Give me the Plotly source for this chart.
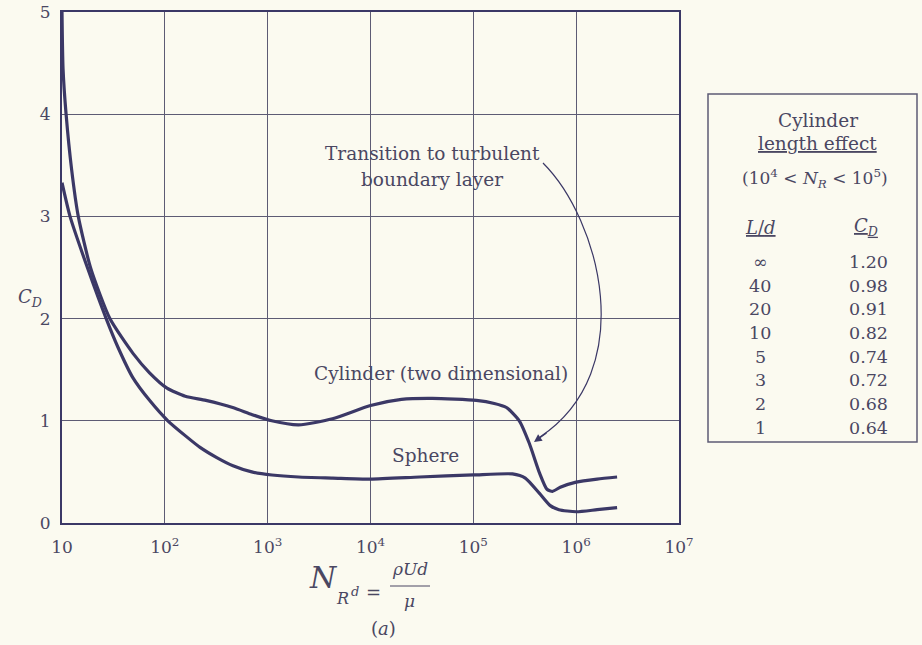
import plotly.graph_objects as go

# ---- data ----
cyl_re = [10.0, 10.23, 10.96, 12.4, 14.4, 19.05, 29.2, 49, 71, 105, 158, 251, 457, 708,
          1096, 2000, 4270, 1.0e4, 2.0e4, 4.0e4, 1.07e5, 1.6e5, 2.1e5, 2.8e5, 3.5e5,
          4.4e5, 5.2e5, 5.9e5, 7.0e5, 1.0e6, 1.6e6, 2.5e6]
cyl_cd = [5.0, 4.45, 4.0, 3.46, 3.0, 2.49, 2.0, 1.66, 1.47, 1.32, 1.24, 1.20, 1.13, 1.06,
          1.0, 0.96, 1.02, 1.15, 1.21, 1.22, 1.20, 1.17, 1.13, 1.0, 0.78,
          0.49, 0.33, 0.31, 0.35, 0.40, 0.43, 0.45]

sph_re = [10.0, 11.97, 17.8, 26.9, 35, 49, 71, 107, 160, 220, 320, 460, 700, 1100, 2000,
          4300, 1.0e4, 3.0e4, 1.0e5, 2.4e5, 3.2e5, 4.4e5, 5.6e5, 6.8e5, 1.0e6, 1.6e6, 2.5e6]
sph_cd = [3.33, 3.0, 2.49, 2.0, 1.72, 1.42, 1.20, 1.0, 0.85, 0.74, 0.64, 0.56, 0.50, 0.47, 0.45,
          0.44, 0.43, 0.45, 0.47, 0.48, 0.44, 0.29, 0.17, 0.13, 0.11, 0.13, 0.15]

x_tickvals = [10, 1e2, 1e3, 1e4, 1e5, 1e6, 1e7]
x_ticktext = ["10", "10<sup>2</sup>", "10<sup>3</sup>", "10<sup>4</sup>", "10<sup>5</sup>",
              "10<sup>6</sup>", "10<sup>7</sup>"]
y_tickvals = [0, 1, 2, 3, 4, 5]

ld_values = ["∞", "40", "20", "10", "5", "3", "2", "1"]
cd_values = ["1.20", "0.98", "0.91", "0.82", "0.74", "0.72", "0.68", "0.64"]

# ---- style ----
W, H = 922, 645
L, R, T, B = 62, 679, 12, 523
BG = "#fbfaf0"
LINE = "#3b3866"
GRID = "#5d5b74"
TXT = "#4a4762"
FONT = "DejaVu Serif"


def px(x):
    return (x - L) / (R - L)


def py(y):
    return (B - y) / (B - T)


fig = go.Figure()
fig.add_trace(go.Scatter(x=cyl_re, y=cyl_cd, mode="lines",
                         line=dict(color=LINE, width=3.2, shape="spline", smoothing=0.6),
                         hoverinfo="skip", showlegend=False, cliponaxis=True))
fig.add_trace(go.Scatter(x=sph_re, y=sph_cd, mode="lines",
                         line=dict(color=LINE, width=3.2, shape="spline", smoothing=0.6),
                         hoverinfo="skip", showlegend=False, cliponaxis=True))

ann = []


def text(x, y, s, size=18, **kw):
    d = dict(x=px(x), y=py(y), xref="paper", yref="paper", text=s, showarrow=False,
             font=dict(family=FONT, size=size, color=TXT), xanchor="center", yanchor="middle")
    d.update(kw)
    ann.append(d)


text(432, 153, "Transition to turbulent", size=18.5)
text(432, 179, "boundary layer", size=18.5)
text(441, 373, "Cylinder (two dimensional)", size=18.5)
text(425, 455, "Sphere", size=18.5)
text(30, 298, "<i>C<sub>D</sub></i>", size=18)

# x-axis title: N_Rd = rho U d / mu
text(323, 577, "<i>N</i>", size=30)
text(342, 598, "<i>R</i>", size=16)
text(355, 591, "<i>d</i>", size=13)
text(374, 592, "=", size=18)
text(410, 569, "<i>ρUd</i>", size=17)
text(409, 601, "<i>μ</i>", size=17)
text(383, 628, "(<i>a</i>)", size=18)

# table
text(818, 120, "Cylinder", size=18.5)
text(817, 143, "<u>length effect</u>", size=18.5)
text(815, 178, "(10<sup>4</sup> &lt; <i>N<sub>R</sub></i> &lt; 10<sup>5</sup>)", size=17)
text(760, 227, "<u><i>L</i>/<i>d</i></u>", size=18)
text(866, 227, "<u><i>C<sub>D</sub></i></u>", size=18)
for i, (a, b) in enumerate(zip(ld_values, cd_values)):
    yy = 262 + i * 23.7
    text(760, yy, a, size=17.5)
    text(868, yy, b, size=17.5)

# arrowhead at the end of the curved pointer
ann.append(dict(x=px(534), y=py(442), xref="paper", yref="paper", ax=14, ay=-10, text="",
                showarrow=True, arrowhead=2, arrowsize=1.3, arrowwidth=1.2, arrowcolor=LINE))

shapes = [
    dict(type="path", xref="paper", yref="paper",
         path=f"M {px(543)},{py(163)} C {px(600)},{py(220)} {px(640)},{py(370)} {px(540)},{py(437)}",
         line=dict(color=LINE, width=1.2)),
    dict(type="rect", xref="paper", yref="paper", x0=px(708), x1=px(917), y0=py(94), y1=py(442),
         line=dict(color=GRID, width=1.5)),
    dict(type="line", xref="paper", yref="paper", x0=px(390), x1=px(430), y0=py(586), y1=py(586),
         line=dict(color=TXT, width=1)),
]

fig.update_layout(
    width=W, height=H,
    margin=dict(l=L, r=W - R, t=T, b=H - B, autoexpand=False),
    paper_bgcolor=BG, plot_bgcolor=BG,
    annotations=ann, shapes=shapes,
    xaxis=dict(type="log", range=[1, 7], tickvals=x_tickvals, ticktext=x_ticktext,
               automargin=False,
               showgrid=True, gridcolor=GRID, gridwidth=1, zeroline=False,
               showline=True, linecolor=LINE, linewidth=2, mirror=True,
               ticks="outside", ticklen=8, tickcolor="rgba(0,0,0,0)",
               tickfont=dict(family=FONT, size=17, color=TXT)),
    yaxis=dict(range=[0, 5], tickvals=y_tickvals, automargin=False,
               showgrid=True, gridcolor=GRID, gridwidth=1, zeroline=False,
               showline=True, linecolor=LINE, linewidth=2, mirror=True,
               ticks="outside", ticklen=6, tickcolor="rgba(0,0,0,0)",
               tickfont=dict(family=FONT, size=17, color=TXT)),
)

fig.write_html("out.html", config={"displayModeBar": False},
               post_script="document.body.style.margin='0px';")
